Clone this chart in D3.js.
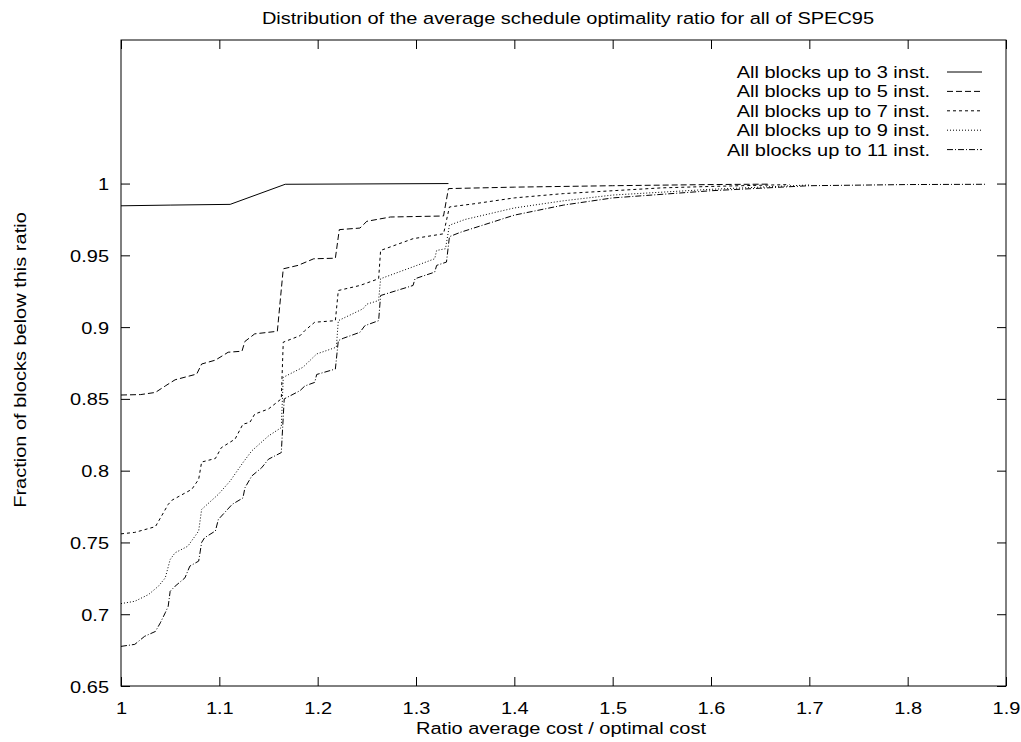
<!DOCTYPE html>
<html>
<head>
<meta charset="utf-8">
<script src="https://cdn.jsdelivr.net/npm/d3@7"></script>
<style>
  html, body { margin: 0; padding: 0; background: #fff; }
  svg { display: block; font-family: "Liberation Sans", Arial, Helvetica, sans-serif; }
</style>
</head>
<body>
<svg id="chart" width="1021" height="742"></svg>
<script>
// ---- data ----
const title = "Distribution of the average schedule optimality ratio for all of SPEC95";
const xLabel = "Ratio average cost / optimal cost";
const yLabel = "Fraction of blocks below this ratio";
const xTicks = [1, 1.1, 1.2, 1.3, 1.4, 1.5, 1.6, 1.7, 1.8, 1.9];
const xTickLabels = ["1", "1.1", "1.2", "1.3", "1.4", "1.5", "1.6", "1.7", "1.8", "1.9"];
const yTicks = [0.65, 0.7, 0.75, 0.8, 0.85, 0.9, 0.95, 1];
const yTickLabels = ["0.65", "0.7", "0.75", "0.8", "0.85", "0.9", "0.95", "1"];
const seriesNames = ["All blocks up to 3 inst.", "All blocks up to 5 inst.", "All blocks up to 7 inst.", "All blocks up to 9 inst.", "All blocks up to 11 inst."];

const s3x = [1.0, 1.05, 1.111, 1.167, 1.333];
const s3y = [0.9845, 0.985, 0.9855, 0.9995, 1.0];

const s5x = [1.0, 1.02, 1.035, 1.045, 1.055, 1.077, 1.082, 1.096, 1.109, 1.123, 1.126, 1.136, 1.159, 1.165, 1.18, 1.196, 1.218, 1.222, 1.243, 1.25, 1.274, 1.328, 1.333, 1.4, 1.5, 1.6, 1.66];
const s5y = [0.8527, 0.853, 0.8545, 0.859, 0.8633, 0.8673, 0.8743, 0.877, 0.8825, 0.8832, 0.890, 0.8953, 0.8971, 0.9406, 0.943, 0.9476, 0.948, 0.9679, 0.969, 0.9737, 0.9767, 0.9774, 0.9965, 0.9975, 0.9985, 0.9993, 0.9996];

const s7x = [1.0, 1.014, 1.035, 1.048, 1.052, 1.072, 1.079, 1.082, 1.096, 1.102, 1.116, 1.124, 1.131, 1.136, 1.150, 1.163, 1.165, 1.182, 1.187, 1.197, 1.218, 1.221, 1.243, 1.262, 1.264, 1.297, 1.328, 1.334, 1.36, 1.4, 1.45, 1.5, 1.55, 1.6, 1.68];
const s7y = [0.756, 0.757, 0.761, 0.7765, 0.7795, 0.787, 0.794, 0.806, 0.8085, 0.816, 0.822, 0.8324, 0.8336, 0.8394, 0.843, 0.850, 0.8895, 0.894, 0.8976, 0.9034, 0.9045, 0.9255, 0.929, 0.9337, 0.9534, 0.9616, 0.965, 0.9837, 0.986, 0.990, 0.993, 0.995, 0.997, 0.998, 0.9993];

const s9x = [1.0, 1.014, 1.028, 1.038, 1.045, 1.050, 1.055, 1.068, 1.079, 1.082, 1.099, 1.111, 1.124, 1.133, 1.150, 1.163, 1.165, 1.185, 1.199, 1.219, 1.221, 1.246, 1.25, 1.262, 1.264, 1.297, 1.319, 1.321, 1.33, 1.334, 1.35, 1.4, 1.45, 1.5, 1.6, 1.7];
const s9y = [0.7074, 0.709, 0.7137, 0.7195, 0.7253, 0.7381, 0.7428, 0.7474, 0.758, 0.773, 0.7835, 0.7928, 0.8056, 0.8138, 0.8242, 0.830, 0.865, 0.872, 0.8813, 0.886, 0.9045, 0.9127, 0.916, 0.9185, 0.9337, 0.942, 0.9476, 0.9534, 0.9546, 0.971, 0.975, 0.983, 0.988, 0.992, 0.996, 0.999];

const s11x = [1.0, 1.014, 1.024, 1.035, 1.040, 1.045, 1.048, 1.050, 1.055, 1.065, 1.070, 1.079, 1.082, 1.085, 1.096, 1.099, 1.113, 1.124, 1.126, 1.133, 1.143, 1.150, 1.163, 1.166, 1.182, 1.187, 1.197, 1.199, 1.218, 1.221, 1.226, 1.243, 1.248, 1.262, 1.264, 1.297, 1.299, 1.319, 1.321, 1.331, 1.334, 1.345, 1.4, 1.45, 1.5, 1.6, 1.7, 1.8, 1.88];
const s11y = [0.6776, 0.679, 0.6846, 0.688, 0.694, 0.701, 0.7055, 0.716, 0.7195, 0.7253, 0.7335, 0.737, 0.750, 0.7533, 0.758, 0.766, 0.7765, 0.781, 0.788, 0.7963, 0.802, 0.808, 0.8126, 0.850, 0.8557, 0.859, 0.8615, 0.867, 0.8708, 0.8906, 0.8922, 0.8964, 0.901, 0.9045, 0.922, 0.929, 0.9337, 0.9383, 0.943, 0.9453, 0.963, 0.966, 0.978, 0.985, 0.990, 0.995, 0.9985, 0.9993, 0.9995];

const seriesX = [s3x, s5x, s7x, s9x, s11x];
const seriesY = [s3y, s5y, s7y, s9y, s11y];
const dashes = [null, "6,3", "3,3", "1,2", "6,2,1,2"];

// ---- layout ----
const FS = 17.2;           // glyph height
const SX = 20 / 17.2;      // horizontal stretch of the reference lettering
const svg = d3.select("#chart");
const L = 121, R = 1006, T = 40, B = 686;
const x = d3.scaleLinear().domain([1, 1.9]).range([L, R]);
const y = d3.scaleLinear().domain([0.65, 1.1]).range([B, T]);
const tickLen = 9;

// frame
svg.append("rect").attr("x", L).attr("y", T).attr("width", R - L).attr("height", B - T)
  .attr("fill", "none").attr("stroke", "#000").attr("stroke-width", 1);

// axes via d3
const fmtX = (d, i) => xTickLabels[i];
const fmtY = (d, i) => yTickLabels[i];
const gxB = svg.append("g").attr("transform", `translate(0,${B})`)
  .call(d3.axisBottom(x).tickValues(xTicks).tickFormat(fmtX).tickSizeInner(-tickLen).tickSizeOuter(0).tickPadding(16));
const gxT = svg.append("g").attr("transform", `translate(0,${T})`)
  .call(d3.axisTop(x).tickValues(xTicks).tickFormat("").tickSizeInner(-tickLen).tickSizeOuter(0));
const gyL = svg.append("g").attr("transform", `translate(${L},0)`)
  .call(d3.axisLeft(y).tickValues(yTicks).tickFormat(fmtY).tickSizeInner(-tickLen).tickSizeOuter(0).tickPadding(12 / SX));
const gyR = svg.append("g").attr("transform", `translate(${R},0)`)
  .call(d3.axisRight(y).tickValues(yTicks).tickFormat("").tickSizeInner(-tickLen).tickSizeOuter(0));
[gxB, gxT, gyL, gyR].forEach(g => {
  g.select(".domain").remove();
  g.selectAll("line").attr("stroke", "#000");
  g.selectAll("text").attr("font-size", FS).attr("fill", "#000")
    .attr("font-family", "'Liberation Sans', Arial, sans-serif")
    .attr("transform", `scale(${SX},1)`);
});
gyL.selectAll("text").attr("dy", "0.35em");

// titles
svg.append("text").attr("transform", `translate(568,24) scale(${SX},1)`).attr("text-anchor", "middle")
  .attr("font-size", FS).text(title);
svg.append("text").attr("transform", `translate(561,734) scale(${SX},1)`).attr("text-anchor", "middle")
  .attr("font-size", FS).text(xLabel);
svg.append("text").attr("transform", `translate(26,360) rotate(-90) scale(${SX},1)`)
  .attr("text-anchor", "middle").attr("font-size", FS).text(yLabel);

// series
const line = d3.line().x(d => x(d[0])).y(d => y(d[1]));
seriesX.forEach((xs, i) => {
  const pts = xs.map((v, j) => [v, seriesY[i][j]]);
  const p = svg.append("path").datum(pts).attr("d", line)
    .attr("fill", "none").attr("stroke", "#000").attr("stroke-width", 1);
  if (dashes[i]) p.attr("stroke-dasharray", dashes[i]);
});

// legend
const lg = svg.append("g");
seriesNames.forEach((name, i) => {
  const cy = 72 + i * 19.4;
  lg.append("text").attr("transform", `translate(930,${cy}) scale(${SX},1)`).attr("dy", "0.35em")
    .attr("text-anchor", "end").attr("font-size", FS).text(name);
  const l = lg.append("line").attr("x1", 947).attr("x2", 982).attr("y1", cy).attr("y2", cy)
    .attr("stroke", "#000").attr("stroke-width", 1);
  if (dashes[i]) l.attr("stroke-dasharray", dashes[i]);
});
</script>
</body>
</html>
